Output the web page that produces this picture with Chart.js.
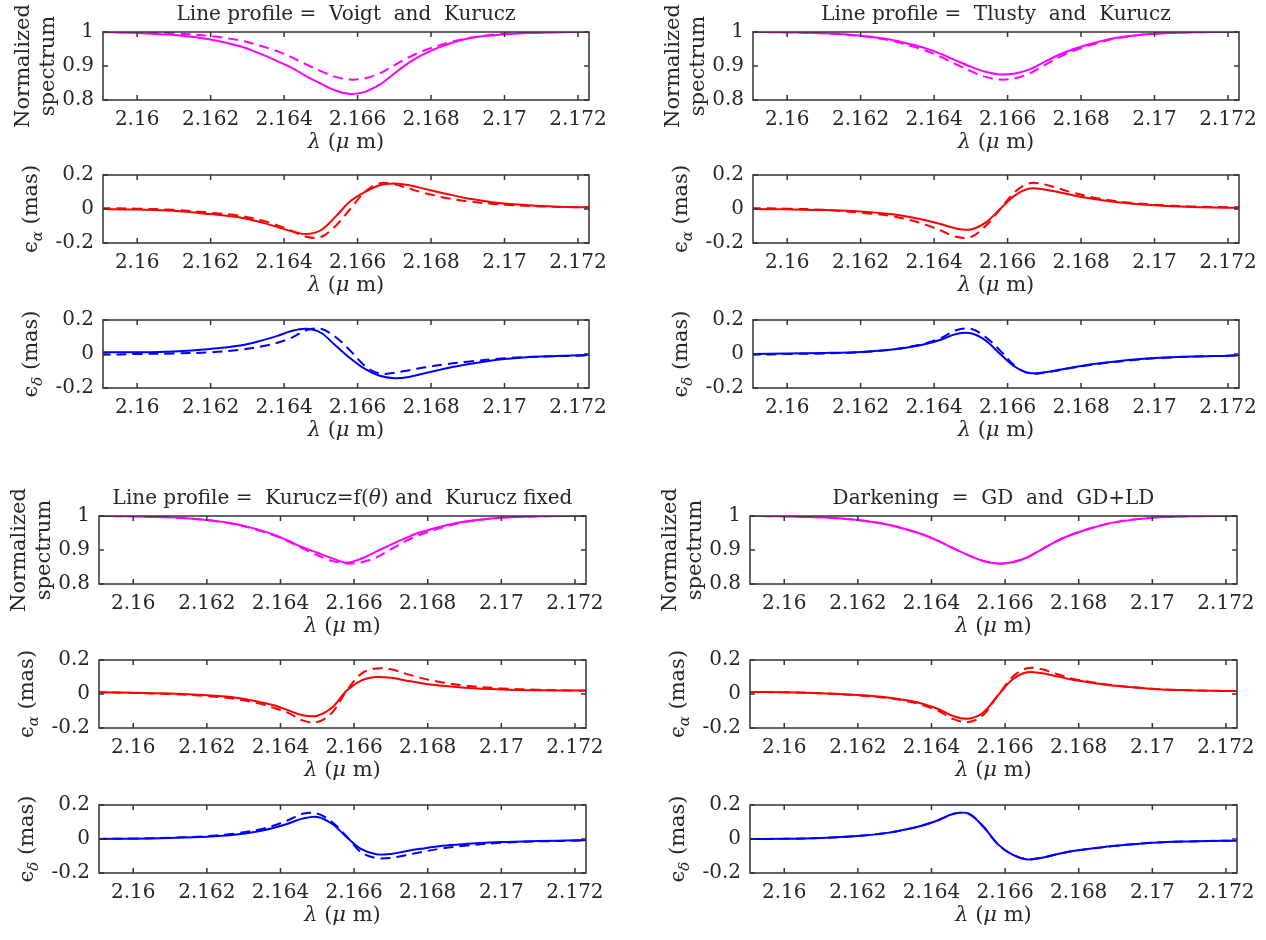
<!DOCTYPE html>
<html>
<head>
<meta charset="utf-8">
<script src="https://cdn.jsdelivr.net/npm/chart.js@4.4.1/dist/chart.umd.min.js"></script>
<style>
html, body { margin: 0; padding: 0; background: #fff; }
#page { position: relative; width: 1266px; height: 940px; overflow: hidden; background: #fff; }
#page canvas { position: absolute; }
</style>
</head>
<body>
<div id="page"></div>
<script>
// Wavelength grid (micron) shared by every curve.
const wavelength = [2.159, 2.160, 2.161, 2.162, 2.1628, 2.1634, 2.1638, 2.1642, 2.1646, 2.165, 2.1654, 2.1658,
    2.1662, 2.1666, 2.167, 2.1674, 2.1678, 2.1684, 2.169, 2.170, 2.171, 2.172, 2.1723];

const xTicks = [2.16, 2.162, 2.164, 2.166, 2.168, 2.17, 2.172];
const xTickLabels = ['2.16', '2.162', '2.164', '2.166', '2.168', '2.17', '2.172'];
const specTicks = [0.8, 0.9, 1];
const specTickLabels = ['0.8', '0.9', '1'];
const epsTicks = [-0.2, 0, 0.2];
const epsTickLabels = ['-0.2', '0', '0.2'];

// Normalized spectra.
const specVoigt = [1.0, 0.997, 0.991, 0.978, 0.958, 0.934, 0.915, 0.895, 0.870, 0.848, 0.828, 0.818,
    0.824, 0.845, 0.878, 0.910, 0.935, 0.962, 0.981, 0.993, 0.998, 1.0, 1.0];
const specKurucz = [1.0, 0.999, 0.996, 0.988, 0.975, 0.958, 0.944, 0.926, 0.905, 0.885, 0.868, 0.860,
    0.864, 0.878, 0.902, 0.926, 0.945, 0.966, 0.982, 0.995, 0.999, 1.0, 1.0];
const specTlusty = [1.0, 0.999, 0.996, 0.989, 0.978, 0.963, 0.951, 0.935, 0.916, 0.898, 0.883, 0.875,
    0.878, 0.890, 0.912, 0.933, 0.950, 0.969, 0.984, 0.995, 0.999, 1.0, 1.0];
const specKuruczTheta = [1.0, 0.999, 0.996, 0.988, 0.976, 0.960, 0.946, 0.928, 0.908, 0.892, 0.876, 0.863,
    0.875, 0.895, 0.916, 0.935, 0.952, 0.970, 0.984, 0.995, 0.999, 1.0, 1.0];
const specDarkening = [1.0, 0.999, 0.996, 0.988, 0.975, 0.958, 0.944, 0.926, 0.905, 0.885, 0.868, 0.860,
    0.864, 0.878, 0.902, 0.926, 0.945, 0.966, 0.982, 0.995, 0.999, 1.0, 1.0];

// Photocentre shift in right ascension (mas).
const alphaVoigt = [0.0, -0.003, -0.010, -0.030, -0.050, -0.080, -0.105, -0.130, -0.147, -0.125, -0.045, 0.045,
    0.100, 0.140, 0.150, 0.140, 0.120, 0.090, 0.062, 0.032, 0.018, 0.010, 0.010];
const alphaKurucz = [0.005, 0.002, -0.005, -0.022, -0.040, -0.068, -0.095, -0.128, -0.163, -0.165, -0.100, 0.0,
    0.100, 0.152, 0.145, 0.120, 0.095, 0.065, 0.045, 0.025, 0.015, 0.010, 0.010];
const alphaTlusty = [0.0, -0.002, -0.006, -0.015, -0.030, -0.050, -0.068, -0.090, -0.115, -0.120, -0.080, 0.0,
    0.080, 0.120, 0.115, 0.098, 0.080, 0.058, 0.040, 0.022, 0.012, 0.008, 0.006];
const alphaKuruczTheta = [0.010, 0.008, 0.003, -0.008, -0.022, -0.045, -0.065, -0.095, -0.125, -0.128, -0.080, 0.020,
    0.080, 0.100, 0.095, 0.080, 0.065, 0.048, 0.037, 0.027, 0.022, 0.020, 0.020];
const alphaKuruczFixed = [0.010, 0.006, 0.0, -0.012, -0.030, -0.055, -0.080, -0.110, -0.155, -0.165, -0.110, 0.020,
    0.120, 0.150, 0.145, 0.120, 0.095, 0.068, 0.050, 0.033, 0.025, 0.020, 0.020];
const alphaGD = [0.012, 0.010, 0.005, -0.006, -0.020, -0.040, -0.060, -0.090, -0.130, -0.145, -0.110, -0.010,
    0.085, 0.128, 0.122, 0.105, 0.085, 0.065, 0.048, 0.030, 0.022, 0.018, 0.018];
const alphaGDLD = [0.012, 0.010, 0.004, -0.008, -0.024, -0.045, -0.068, -0.100, -0.148, -0.165, -0.125, -0.010,
    0.100, 0.152, 0.145, 0.118, 0.092, 0.068, 0.050, 0.031, 0.022, 0.018, 0.018];

// Photocentre shift in declination (mas).
const deltaVoigt = [0.010, 0.010, 0.015, 0.030, 0.050, 0.080, 0.105, 0.135, 0.148, 0.125, 0.050, -0.025,
    -0.088, -0.128, -0.142, -0.135, -0.115, -0.085, -0.060, -0.030, -0.015, -0.008, -0.005];
const deltaKurucz = [-0.005, 0.0, 0.003, 0.010, 0.025, 0.045, 0.065, 0.095, 0.140, 0.148, 0.100, 0.020,
    -0.070, -0.115, -0.110, -0.095, -0.080, -0.060, -0.045, -0.025, -0.015, -0.010, -0.008];
const deltaTlusty = [0.0, 0.003, 0.006, 0.012, 0.025, 0.042, 0.060, 0.085, 0.118, 0.122, 0.080, 0.0,
    -0.075, -0.112, -0.108, -0.093, -0.078, -0.058, -0.042, -0.024, -0.015, -0.010, -0.008];
const deltaKuruczTheta = [0.0, 0.002, 0.006, 0.013, 0.026, 0.045, 0.065, 0.090, 0.120, 0.130, 0.090, 0.010,
    -0.060, -0.090, -0.088, -0.072, -0.058, -0.040, -0.030, -0.018, -0.012, -0.008, -0.007];
const deltaKuruczFixed = [0.0, 0.003, 0.008, 0.017, 0.033, 0.055, 0.078, 0.110, 0.148, 0.150, 0.100, 0.015,
    -0.080, -0.112, -0.112, -0.095, -0.078, -0.055, -0.040, -0.022, -0.014, -0.010, -0.008];
const deltaDarkening = [0.0, 0.001, 0.006, 0.018, 0.036, 0.060, 0.082, 0.112, 0.148, 0.150, 0.075, -0.030,
    -0.092, -0.120, -0.110, -0.090, -0.072, -0.055, -0.040, -0.022, -0.014, -0.010, -0.010];

// Layout and styling.
const X_MIN = 2.15907;
const X_MAX = 2.1723;
const PAD_L = 103;
const PAD_T = 34;
const PAD_R = 40;
const PAD_B = 62;
const PLOT_H = 68;
const FONT = '"DejaVu Serif", serif';
const TEXT_COLOR = '#262626';
const AXIS_COLOR = '#333333';
const rowColors = ['#ff00ff', '#ff0000', '#0000ff'];

const groups = [
    {
        left: 103, width: 486, tops: [32, 175, 320],
        title: [{ t: 'Line profile =  Voigt  and  Kurucz' }],
        rows: [[specVoigt, specKurucz], [alphaVoigt, alphaKurucz], [deltaVoigt, deltaKurucz]]
    },
    {
        left: 753, width: 486, tops: [32, 175, 320],
        title: [{ t: 'Line profile =  Tlusty  and  Kurucz' }],
        rows: [[specTlusty, specKurucz], [alphaTlusty, alphaKurucz], [deltaTlusty, deltaKurucz]]
    },
    {
        left: 99, width: 487, tops: [516, 660, 805],
        title: [{ t: 'Line profile =  Kurucz=f(' }, { t: 'θ', i: true }, { t: ') and  Kurucz fixed' }],
        rows: [[specKuruczTheta, specKurucz], [alphaKuruczTheta, alphaKuruczFixed], [deltaKuruczTheta, deltaKuruczFixed]]
    },
    {
        left: 750, width: 487, tops: [516, 660, 805],
        title: [{ t: 'Darkening  =  GD  and  GD+LD' }],
        rows: [[specDarkening, specDarkening], [alphaGD, alphaGDLD], [deltaDarkening, deltaDarkening]]
    }
];

const yLabels = [
    null,
    [{ t: 'ϵ' }, { t: 'α', i: true, sub: true }, { t: ' (mas)' }],
    [{ t: 'ϵ' }, { t: 'δ', i: true, sub: true }, { t: ' (mas)' }]
];
const xLabel = [{ t: 'λ', i: true }, { t: ' (' }, { t: 'μ', i: true }, { t: ' m)' }];

function font(size, italic) {
    return (italic ? 'italic ' : '') + size + 'px ' + FONT;
}

// Draws a line of mixed text runs centred on (cx, cy).
function drawRuns(ctx, runs, cx, cy, size) {
    const parts = runs.map(r => {
        const s = r.sub ? Math.round(size * 0.7) : size;
        ctx.font = font(s, r.i);
        return { r, s, w: ctx.measureText(r.t).width };
    });
    const total = parts.reduce((sum, p) => sum + p.w, 0);
    let x = cx - total / 2;
    ctx.textAlign = 'left';
    ctx.textBaseline = 'middle';
    ctx.fillStyle = TEXT_COLOR;
    parts.forEach(p => {
        ctx.font = font(p.s, p.r.i);
        ctx.fillText(p.r.t, x, cy + (p.r.sub ? size * 0.3 : 0));
        x += p.w;
    });
}

// MATLAB-like box, inner ticks, axis labels and group title.
const framePlugin = {
    id: 'frame',
    afterDraw(chart, args, opts) {
        const { ctx, chartArea: a, scales: { x, y } } = chart;
        ctx.save();
        ctx.strokeStyle = AXIS_COLOR;
        ctx.lineWidth = 1.5;
        ctx.strokeRect(a.left, a.top, a.right - a.left, a.bottom - a.top);
        ctx.beginPath();
        x.ticks.forEach(t => {
            const px = x.getPixelForValue(t.value);
            ctx.moveTo(px, a.bottom); ctx.lineTo(px, a.bottom - 5);
            ctx.moveTo(px, a.top); ctx.lineTo(px, a.top + 5);
        });
        y.ticks.forEach(t => {
            const py = y.getPixelForValue(t.value);
            ctx.moveTo(a.left, py); ctx.lineTo(a.left + 5, py);
            ctx.moveTo(a.right, py); ctx.lineTo(a.right - 5, py);
        });
        ctx.stroke();

        const cx = (a.left + a.right) / 2;
        const cy = (a.top + a.bottom) / 2;
        drawRuns(ctx, xLabel, cx, a.bottom + 43, 21);

        if (opts.row === 0) {
            [['Normalized', 79], ['spectrum', 54]].forEach(([text, off]) => {
                ctx.save();
                ctx.translate(a.left - off, cy);
                ctx.rotate(-Math.PI / 2);
                drawRuns(ctx, [{ t: text }], 0, 0, 21);
                ctx.restore();
            });
        } else {
            ctx.save();
            ctx.translate(a.left - 71, cy);
            ctx.rotate(-Math.PI / 2);
            drawRuns(ctx, yLabels[opts.row], 0, 0, 21);
            ctx.restore();
        }

        if (opts.title) {
            drawRuns(ctx, opts.title, cx, a.top - 17, 20);
        }
        ctx.restore();
    }
};

const page = document.getElementById('page');

function makePanel(group, row) {
    const canvas = document.createElement('canvas');
    canvas.width = PAD_L + group.width + PAD_R;
    canvas.height = PAD_T + PLOT_H + PAD_B;
    canvas.style.left = (group.left - PAD_L) + 'px';
    canvas.style.top = (group.tops[row] - PAD_T) + 'px';
    canvas.style.width = canvas.width + 'px';
    canvas.style.height = canvas.height + 'px';
    page.appendChild(canvas);

    const [solid, dashed] = group.rows[row];
    const isSpec = row === 0;
    const yTicks = isSpec ? specTicks : epsTicks;
    const yTickLabels = isSpec ? specTickLabels : epsTickLabels;
    const tickFont = { family: FONT, size: 20 };

    new Chart(canvas, {
        type: 'line',
        data: {
            datasets: [solid, dashed].map((values, k) => ({
                data: wavelength.map((w, i) => ({ x: w, y: values[i] })),
                borderColor: rowColors[row],
                borderWidth: 2,
                borderDash: k === 1 ? [10, 6] : [],
                pointRadius: 0,
                fill: false,
                tension: 0.35
            }))
        },
        options: {
            responsive: false,
            animation: false,
            devicePixelRatio: 1,
            layout: { padding: { top: PAD_T, right: PAD_R, left: 0, bottom: 0 } },
            plugins: {
                legend: { display: false },
                tooltip: { enabled: false },
                frame: { row: row, title: row === 0 ? group.title : null }
            },
            scales: {
                x: {
                    type: 'linear',
                    min: X_MIN,
                    max: X_MAX,
                    afterBuildTicks: scale => { scale.ticks = xTicks.map(v => ({ value: v })); },
                    afterFit: scale => { scale.height = PAD_B; },
                    grid: { display: false, drawTicks: false },
                    border: { display: false },
                    ticks: {
                        padding: 8,
                        color: TEXT_COLOR,
                        font: tickFont,
                        maxRotation: 0,
                        autoSkip: false,
                        callback: (v, i) => xTickLabels[i]
                    }
                },
                y: {
                    type: 'linear',
                    min: yTicks[0],
                    max: yTicks[yTicks.length - 1],
                    afterBuildTicks: scale => { scale.ticks = yTicks.map(v => ({ value: v })); },
                    afterFit: scale => { scale.width = PAD_L; },
                    grid: { display: false, drawTicks: false },
                    border: { display: false },
                    ticks: {
                        padding: 9,
                        color: TEXT_COLOR,
                        font: tickFont,
                        autoSkip: false,
                        callback: (v, i) => yTickLabels[i]
                    }
                }
            }
        },
        plugins: [framePlugin]
    });
}

groups.forEach(group => {
    [0, 1, 2].forEach(row => makePanel(group, row));
});
</script>
</body>
</html>
